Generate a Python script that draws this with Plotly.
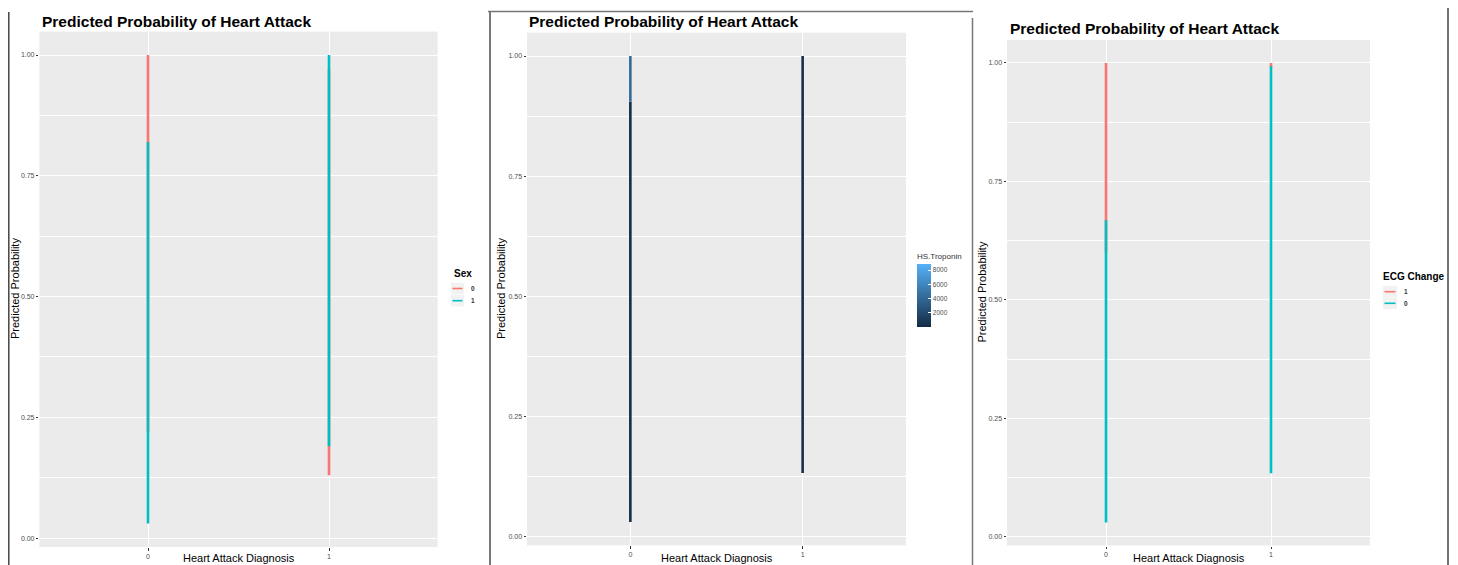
import plotly.graph_objects as go
from plotly.colors import sample_colorscale

# ---------------- data ----------------
diagnosis = [0, 1]
x_tick_labels = ["0", "1"]
y_tick_vals = [0.0, 0.25, 0.5, 0.75, 1.0]
y_tick_labels = ["0.00", "0.25", "0.50", "0.75", "1.00"]

# Panel 1: Sex (lowest / highest predicted probability per diagnosis)
sex_levels = ["0", "1"]
sex0_min = [0.22, 0.13]
sex0_max = [1.00, 0.97]
sex1_min = [0.03, 0.19]
sex1_max = [0.82, 1.00]

# Panel 2: HS.Troponin (segments along each diagnosis line)
trop_diag = [0, 0, 1]
trop_low = [0.03, 0.905, 0.132]
trop_high = [0.905, 1.00, 1.00]
trop_value = [150, 4200, 300]
trop_limits = [0, 8850]
trop_ticks = [2000, 4000, 6000, 8000]

# Panel 3: ECG Change
ecg_levels = ["1", "0"]
ecg1_min = [0.60, 0.99]
ecg1_max = [1.00, 1.00]
ecg0_min = [0.03, 0.134]
ecg0_max = [0.668, 0.993]

RED = "#F8766D"
TEAL = "#00BFC4"
GG_SCALE = [[0, "#132B43"], [1, "#56B1F7"]]
FONT = "Liberation Sans, Arial, sans-serif"

OFF = 8  # page body margin
W, H = 1458 - OFF, 565 - OFF


def px(x):
    return (x - OFF) / W


def py(y):
    return 1 - (y - OFF) / H


def seg_xy(xs, lows, highs):
    xx, yy = [], []
    for x, lo, hi in zip(xs, lows, highs):
        xx += [x, x, None]
        yy += [lo, hi, None]
    return xx, yy


def yrange(lows, highs):
    lo, hi = min(lows), max(highs)
    pad = 0.05 * (hi - lo)
    return [lo - pad, hi + pad]


fig = go.Figure()

# ---- panel 1 ----
for lows, highs, col, name in [(sex0_min, sex0_max, RED, sex_levels[0]),
                               (sex1_min, sex1_max, TEAL, sex_levels[1])]:
    xx, yy = seg_xy(diagnosis, lows, highs)
    fig.add_trace(go.Scatter(x=xx, y=yy, mode="lines", line=dict(color=col, width=2.6),
                             name=name, showlegend=False, xaxis="x", yaxis="y"))

# ---- panel 2 ----
tmin, tmax = trop_limits
for d, lo, hi, v in zip(trop_diag, trop_low, trop_high, trop_value):
    col = sample_colorscale(GG_SCALE, [(v - tmin) / (tmax - tmin)])[0]
    fig.add_trace(go.Scatter(x=[d, d], y=[lo, hi], mode="lines", line=dict(color=col, width=2.6),
                             showlegend=False, xaxis="x2", yaxis="y2", hoverinfo="skip"))
fig.add_trace(go.Scatter(
    x=trop_diag, y=trop_high, mode="markers", showlegend=False, xaxis="x2", yaxis="y2",
    marker=dict(size=1, opacity=0, color=trop_value, colorscale=GG_SCALE, cmin=tmin, cmax=tmax,
                showscale=True,
                colorbar=dict(x=px(917), xanchor="left", y=py(250), yanchor="top",
                              len=77, lenmode="pixels", thickness=14, thicknessmode="pixels",
                              xpad=0, ypad=0, outlinewidth=0,
                              tickvals=trop_ticks, ticktext=[str(t) for t in trop_ticks],
                              ticks="inside", ticklen=3, tickcolor="white", tickwidth=1,
                              tickfont=dict(size=6.5, color="#4D4D4D", family=FONT),
                              title=dict(text="HS.Troponin", side="top",
                                         font=dict(size=8, color="#333", family=FONT))))))

# ---- panel 3 ----
for lows, highs, col, name in [(ecg1_min, ecg1_max, RED, ecg_levels[0]),
                               (ecg0_min, ecg0_max, TEAL, ecg_levels[1])]:
    xx, yy = seg_xy(diagnosis, lows, highs)
    fig.add_trace(go.Scatter(x=xx, y=yy, mode="lines", line=dict(color=col, width=2.6),
                             name=name, showlegend=False, xaxis="x3", yaxis="y3"))

panels = [
    dict(x0=39.4, x1=437.6, y0=31.6, y1=547.0,
         yr=yrange(sex0_min + sex1_min, sex0_max + sex1_max)),
    dict(x0=527.0, x1=906.0, y0=32.7, y1=545.4,
         yr=yrange(trop_low, trop_high)),
    dict(x0=1007.0, x1=1370.0, y0=40.0, y1=545.5,
         yr=yrange(ecg1_min + ecg0_min, ecg1_max + ecg0_max)),
]

layout = dict(
    width=W, height=H, margin=dict(l=0, r=0, t=0, b=0),
    paper_bgcolor="white", plot_bgcolor="#EBEBEB", showlegend=False,
    font=dict(family=FONT),
)
for i, p in enumerate(panels, start=1):
    sx = "" if i == 1 else str(i)
    layout["xaxis" + sx] = dict(
        domain=[px(p["x0"]), px(p["x1"])], range=[-0.6, 1.6], anchor="y" + sx,
        tickvals=diagnosis, ticktext=x_tick_labels, showgrid=True, gridcolor="white",
        gridwidth=1.1, zeroline=False, ticks="outside", ticklen=2.5, tickwidth=0.8,
        tickcolor="#333", tickfont=dict(size=7, color="#4D4D4D", family=FONT), showline=False,
        fixedrange=True)
    layout["yaxis" + sx] = dict(
        domain=[py(p["y1"]), py(p["y0"])], range=p["yr"], anchor="x" + sx,
        tickvals=y_tick_vals, ticktext=y_tick_labels, showgrid=True, gridcolor="white",
        gridwidth=1.1, zeroline=False, ticks="outside", ticklen=2.5, tickwidth=0.8,
        tickcolor="#333", tickfont=dict(size=7, color="#4D4D4D", family=FONT), showline=False,
        minor=dict(tickvals=[0.125, 0.375, 0.625, 0.875], showgrid=True, gridcolor="white",
                   gridwidth=0.5, ticks=""),
        fixedrange=True)
fig.update_layout(**layout)

ann = []
title_pos = [(40, 21), (527, 21.5), (1008, 28)]
for (tx, ty) in title_pos:
    ann.append(dict(text="<b>Predicted Probability of Heart Attack</b>", x=px(tx), y=py(ty),
                    xref="paper", yref="paper", xanchor="left", yanchor="middle", showarrow=False,
                    font=dict(size=15.5, color="black", family=FONT)))
for (tx, ty) in [(15, 289), (501, 289), (981.5, 292)]:
    ann.append(dict(text="Predicted Probability", x=px(tx), y=py(ty), xref="paper", yref="paper",
                    textangle=-90, showarrow=False, xanchor="center", yanchor="middle",
                    font=dict(size=11, color="black", family=FONT)))
for (tx, ty) in [(238.5, 557.5), (716.5, 557.5), (1188.5, 557.5)]:
    ann.append(dict(text="Heart Attack Diagnosis", x=px(tx), y=py(ty), xref="paper", yref="paper",
                    showarrow=False, xanchor="center", yanchor="middle",
                    font=dict(size=11, color="black", family=FONT)))

shapes = []
legends = [
    dict(title="Sex", tx=452, ty=273, kx0=451, kx1=464, ky=[288.5, 300.7],
         labels=sex_levels, colors=[RED, TEAL]),
    dict(title="ECG Change", tx=1381, ty=276, kx0=1383, kx1=1397, ky=[291.7, 303.3],
         labels=ecg_levels, colors=[RED, TEAL]),
]
for lg in legends:
    ann.append(dict(text="<b>" + lg["title"] + "</b>", x=px(lg["tx"]), y=py(lg["ty"]),
                    xref="paper", yref="paper", xanchor="left", yanchor="middle", showarrow=False,
                    font=dict(size=10, color="black", family=FONT)))
    for k, (yk, lab, col) in enumerate(zip(lg["ky"], lg["labels"], lg["colors"])):
        shapes.append(dict(type="rect", xref="paper", yref="paper", x0=px(lg["kx0"]),
                           x1=px(lg["kx1"]), y0=py(yk - 5.8), y1=py(yk + 5.8),
                           fillcolor="#F2F2F2", line=dict(width=0), layer="below"))
        shapes.append(dict(type="line", xref="paper", yref="paper", x0=px(lg["kx0"] + 1.5),
                           x1=px(lg["kx1"] - 1.5), y0=py(yk), y1=py(yk),
                           line=dict(color=col, width=1.6)))
        ann.append(dict(text="<b>" + lab + "</b>", x=px(lg["kx1"] + 5), y=py(yk), xref="paper",
                        yref="paper", xanchor="left", yanchor="middle", showarrow=False,
                        font=dict(size=6.5, color="#333", family=FONT)))

# frame lines between the screenshots
frames = [
    (8.8, 12, 8.8, 565, "#444", 1.5),
    (488, 11.5, 973, 11.5, "#777", 1.5),
    (490, 11.5, 490, 565, "#777", 2),
    (972.5, 18, 972.5, 565, "#777", 1.5),
    (1448, 8, 1448, 565, "#444", 1.5),
]
for x0, y0, x1, y1, c, w in frames:
    shapes.append(dict(type="line", xref="paper", yref="paper", x0=px(x0), y0=py(y0),
                       x1=px(x1), y1=py(y1), line=dict(color=c, width=w)))

fig.update_layout(annotations=ann, shapes=shapes)
fig.write_html("out.html")
